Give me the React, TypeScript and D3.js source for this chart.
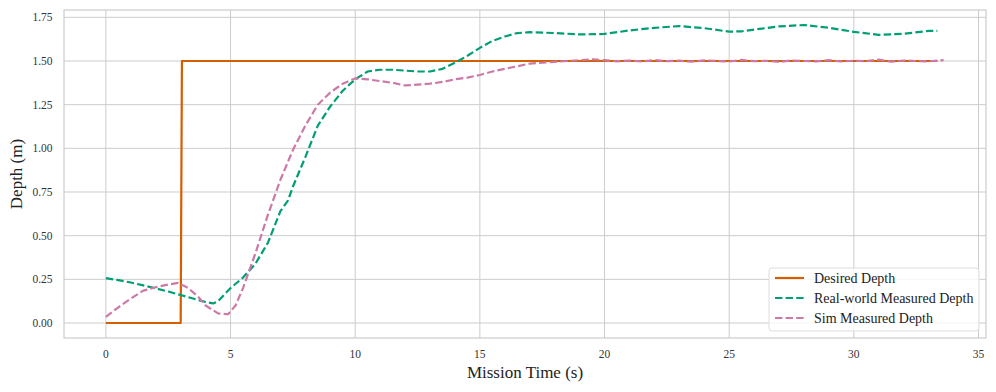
import React from 'react';
import * as d3 from 'd3';

// desired setpoint (step at ~3 s)
const desiredT = [0, 3, 3.05, 33.35];
const desiredD = [0, 0, 1.5, 1.5];

// real-world measured depth
const realT = [0, 0.5, 1, 1.5, 2, 2.5, 3, 3.5, 4, 4.3, 4.5, 5, 5.5, 6, 6.5, 7, 7.3, 7.5, 8, 8.5, 9, 9.5, 10, 10.5, 11, 11.5, 12, 12.5, 13, 13.5, 14, 14.5, 15, 15.5, 16, 16.5, 17, 18, 19, 20, 21, 22, 23, 24, 25, 25.5, 26, 27, 28, 29, 30, 31, 32, 33, 33.35];
const realD = [0.257, 0.245, 0.232, 0.215, 0.198, 0.18, 0.16, 0.14, 0.12, 0.112, 0.125, 0.2, 0.26, 0.34, 0.46, 0.64, 0.7, 0.78, 0.95, 1.13, 1.24, 1.33, 1.395, 1.44, 1.45, 1.45, 1.445, 1.44, 1.44, 1.455, 1.49, 1.53, 1.575, 1.615, 1.64, 1.66, 1.665, 1.66, 1.652, 1.655, 1.675, 1.69, 1.7, 1.688, 1.668, 1.67, 1.68, 1.698, 1.706, 1.69, 1.667, 1.65, 1.656, 1.672, 1.672];

// simulated depth
const simT = [0, 0.5, 1, 1.5, 2, 2.5, 2.9, 3.3, 3.7, 4, 4.5, 4.9, 5.2, 5.5, 6, 6.5, 7, 7.5, 8, 8.5, 9, 9.5, 10, 10.5, 11, 11.5, 12, 12.5, 13, 13.5, 14, 14.5, 15, 15.5, 16, 16.5, 17, 17.5, 18, 18.5, 19, 19.5, 20,
  20.5, 21, 21.5, 22, 22.5, 23, 23.5, 24, 24.5, 25, 25.5, 26, 26.5, 27, 27.5, 28, 28.5, 29, 29.5, 30, 30.5, 31, 31.5, 32, 32.5, 33, 33.6];
const simD = [0.035, 0.09, 0.14, 0.185, 0.205, 0.22, 0.23, 0.2, 0.15, 0.1, 0.055, 0.05, 0.1, 0.2, 0.4, 0.62, 0.82, 0.99, 1.13, 1.25, 1.32, 1.37, 1.4, 1.395, 1.385, 1.375, 1.36, 1.365, 1.37, 1.38, 1.395, 1.405, 1.42, 1.44, 1.455, 1.47, 1.485, 1.49, 1.495, 1.5, 1.505, 1.51, 1.505,
  1.498, 1.503, 1.497, 1.505, 1.499, 1.502, 1.496, 1.504, 1.5, 1.497, 1.506, 1.499, 1.501, 1.495, 1.503, 1.5, 1.498, 1.505, 1.497, 1.502, 1.499, 1.508, 1.496, 1.503, 1.5, 1.498, 1.505];

const xTicks = [0, 5, 10, 15, 20, 25, 30, 35];
const yTicks = [0, 0.25, 0.5, 0.75, 1.0, 1.25, 1.5, 1.75];

const series = [
  { name: 'Desired Depth', t: desiredT, d: desiredD, color: '#d55e00', dash: null },
  { name: 'Real-world Measured Depth', t: realT, d: realD, color: '#009e73', dash: '7.4,3.2' },
  { name: 'Sim Measured Depth', t: simT, d: simD, color: '#cc79a7', dash: '7.4,3.2' },
];

const W = 996, H = 392;
const margin = { top: 10, right: 10, bottom: 54, left: 64 };
const font = '"Liberation Serif", "Times New Roman", serif';

export default function App() {
  const x = d3.scaleLinear().domain([-1.68, 35.3]).range([margin.left, W - margin.right]);
  const y = d3.scaleLinear().domain([-0.0859, 1.792]).range([H - margin.bottom, margin.top]);
  const line = d3.line<[number, number]>().x(p => x(p[0])).y(p => y(p[1]));

  const lx = 769, ly = 268;
  return (
    <svg width={W} height={H} style={{ position: 'absolute', left: 0, top: 0, fontFamily: font }}>
      <rect x={0} y={0} width={W} height={H} fill="#fff" />
      {/* grid */}
      {xTicks.map(t => (
        <line key={'gx' + t} x1={x(t)} x2={x(t)} y1={margin.top} y2={H - margin.bottom} stroke="#cccccc" strokeWidth={1} />
      ))}
      {yTicks.map(t => (
        <line key={'gy' + t} x1={margin.left} x2={W - margin.right} y1={y(t)} y2={y(t)} stroke="#cccccc" strokeWidth={1} />
      ))}
      <rect x={margin.left} y={margin.top} width={W - margin.left - margin.right} height={H - margin.top - margin.bottom}
        fill="none" stroke="#cccccc" strokeWidth={1.2} />
      {/* ticks */}
      {xTicks.map(t => (
        <text key={'tx' + t} x={x(t)} y={357.5} textAnchor="middle" fontSize={11.5} fill="#333">{t}</text>
      ))}
      {yTicks.map(t => (
        <text key={'ty' + t} x={margin.left - 11.5} y={y(t)} dy="0.35em" textAnchor="end" fontSize={11.5} fill="#333">{t.toFixed(2)}</text>
      ))}
      <text x={(margin.left + W - margin.right) / 2} y={378} textAnchor="middle" fontSize={17} fill="#222">Mission Time (s)</text>
      <text transform={`translate(22,${(margin.top + H - margin.bottom) / 2}) rotate(-90)`} textAnchor="middle" fontSize={17} fill="#222">Depth (m)</text>
      {/* lines */}
      {series.map(s => (
        <path key={s.name} d={line(s.t.map((t, i) => [t, s.d[i]] as [number, number])) || ''} fill="none"
          stroke={s.color} strokeWidth={2.2} strokeDasharray={s.dash || undefined} strokeLinejoin="round" />
      ))}
      {/* legend */}
      <rect x={lx} y={ly} width={210} height={63} rx={3} fill="#fff" fillOpacity={0.8} stroke="#dddddd" />
      {series.map((s, i) => (
        <g key={'lg' + s.name} transform={`translate(${lx + 6},${ly + 10 + i * 20})`}>
          <line x1={0} x2={29} y1={0} y2={0} stroke={s.color} strokeWidth={2.2} strokeDasharray={s.dash || undefined} />
          <text x={39} y={0} dy="0.35em" fontSize={14} fill="#222">{s.name}</text>
        </g>
      ))}
    </svg>
  );
}
